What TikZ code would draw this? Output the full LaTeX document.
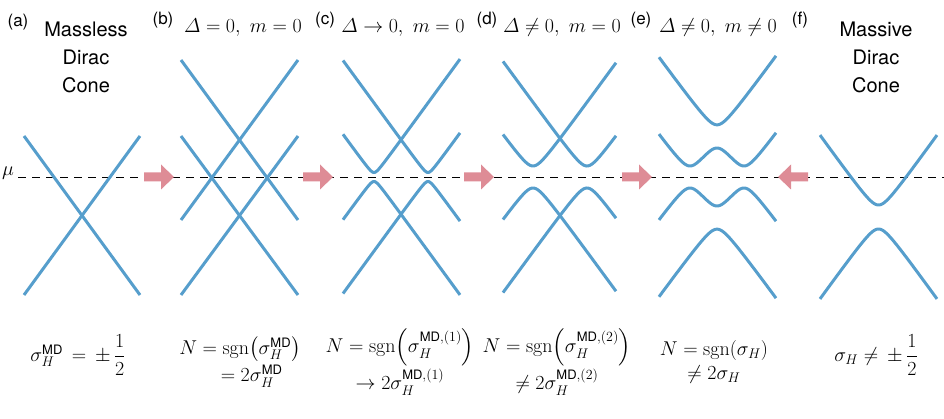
\RequirePackage{fix-cm}
\documentclass[tikz,border=0pt]{standalone}
\usepackage{amsmath}
\usepackage{fontspec}
\setsansfont{TeX Gyre Heros}
\usepackage{tikz}
\usetikzlibrary{positioning,calc}

\definecolor{bandblue}{RGB}{86,158,204}
\definecolor{arrowpink}{RGB}{222,140,150}
\newcommand{\MD}{\textsf{\fontsize{13}{13}\selectfont MD}}

\begin{document}
\begin{tikzpicture}[x=1pt, y=-1pt,
    band/.style={draw=bandblue, line width=3pt},
    shift arrow/.style={fill=arrowpink},
    title/.style={align=center, font=\sffamily\fontsize{20}{28}\selectfont},
    tag/.style={font=\sffamily\fontsize{17}{18}\selectfont},
    formula/.style={font=\fontsize{20}{22}\selectfont, align=center}]
    \useasboundingbox (0,0) rectangle (944,419);

    % chemical potential
    \node[font=\fontsize{20}{20}\selectfont] (mu) at (8,173) {$\mu$};
    \draw[dashed, line width=0.9pt, dash pattern=on 8pt off 6pt] (18,177) -- (944,177);

    % (a) massless Dirac cone
    \draw[band] (24,136) -- (140,295);
    \draw[band] (140,136) -- (24,295);

    % (b) two cones, no gap
    \draw[band] (181,60) -- (298,220);
    \draw[band] (298,60) -- (181,220);
    \draw[band] (181,136) -- (298,295);
    \draw[band] (298,136) -- (181,295);

    % (c) small gap
    \foreach \xv in {374,428} {
        \draw[band] plot[domain=343:460, samples=90, smooth] (\x, {177-sqrt((1.37*(\x-\xv))^2+20)});
        \draw[band] plot[domain=343:460, samples=90, smooth] (\x, {177+sqrt((1.37*(\x-\xv))^2+20)});
    }

    % (d) finite gap
    \foreach \xv in {533,587} {
        \draw[band] plot[domain=503:616, samples=90, smooth] (\x, {177-sqrt((1.37*(\x-\xv))^2+121)});
        \draw[band] plot[domain=503:616, samples=90, smooth] (\x, {177+sqrt((1.37*(\x-\xv))^2+121)});
    }

    % (e) gap and mass
    \draw[band] plot[domain=659:776, samples=90, smooth] (\x, {177-sqrt((sqrt((1.37*(\x-717))^2+146)+38.9)^2+121)});
    \draw[band] plot[domain=659:776, samples=90, smooth] (\x, {177+sqrt((sqrt((1.37*(\x-717))^2+146)+38.9)^2+121)});
    \draw[band] plot[domain=659:776, samples=120, smooth] (\x, {177-sqrt((sqrt((1.37*(\x-717))^2+146)-38.9)^2+121)});
    \draw[band] plot[domain=659:776, samples=120, smooth] (\x, {177+sqrt((sqrt((1.37*(\x-717))^2+146)-38.9)^2+121)});

    % (f) massive Dirac cone
    \draw[band] plot[domain=820:937, samples=90, smooth] (\x, {217-sqrt((1.385*(\x-878.5))^2+144)});
    \draw[band] plot[domain=820:937, samples=90, smooth] (\x, {217+sqrt((1.385*(\x-878.5))^2+144)});

    % arrows between panels
    \foreach \xs/\dir in {144/1, 303/1, 464/1, 622/1, 808/-1} {
        \fill[shift arrow, shift={(\xs,177)}, xscale=\dir]
            (0,-4.5) -- (17,-4.5) -- (17,-12.5) -- (30,0) -- (17,12.5) -- (17,4.5) -- (0,4.5) -- cycle;
    }

    % titles
    \node[tag] (taga) at (18,22) {(a)};
    \node[title] (titlea) at (86,57) {Massless\\Dirac\\Cone};
    \node[tag] (tagb) at (163,20) {(b)};
    \node[formula] (titleb) at (243,28) {$\varDelta=0,\ m=0$};
    \node[tag] (tagc) at (325,20) {(c)};
    \node[formula] (titlec) at (403,28) {$\varDelta\rightarrow0,\ m=0$};
    \node[tag] (tagd) at (487,20) {(d)};
    \node[formula] (titled) at (562,28) {$\varDelta\neq0,\ m=0$};
    \node[tag] (tage) at (641,20) {(e)};
    \node[formula] (titlee) at (718,28) {$\varDelta\neq0,\ m\neq0$};
    \node[tag] (tagf) at (800,20) {(f)};
    \node[title] (titlef) at (876,57) {Massive\\Dirac\\Cone};

    % Hall conductivities
    \node[formula] (conda) at (78,355) {$\sigma_H^{\MD} \,=\, \pm\,\dfrac{1}{2}$};
    \node[formula] (condb) at (240,362) {$N=\operatorname{sgn}\!\left(\sigma_H^{\MD}\right)$\\[2pt]$\phantom{N}=2\sigma_H^{\MD}$};
    \node[formula] (condc) at (400,362) {$N=\operatorname{sgn}\!\left(\sigma_H^{\MD,(1)}\right)$\\[2pt]$\rightarrow2\sigma_H^{\MD,(1)}$};
    \node[formula] (condd) at (557,362) {$N=\operatorname{sgn}\!\left(\sigma_H^{\MD,(2)}\right)$\\[2pt]$\neq2\sigma_H^{\MD,(2)}$};
    \node[formula] (conde) at (714,362) {$N=\operatorname{sgn}\!\left(\sigma_H\right)$\\[2pt]$\neq2\sigma_H$};
    \node[formula] (condf) at (876,355) {$\sigma_H \neq\, \pm\,\dfrac{1}{2}$};
\end{tikzpicture}
\end{document}
